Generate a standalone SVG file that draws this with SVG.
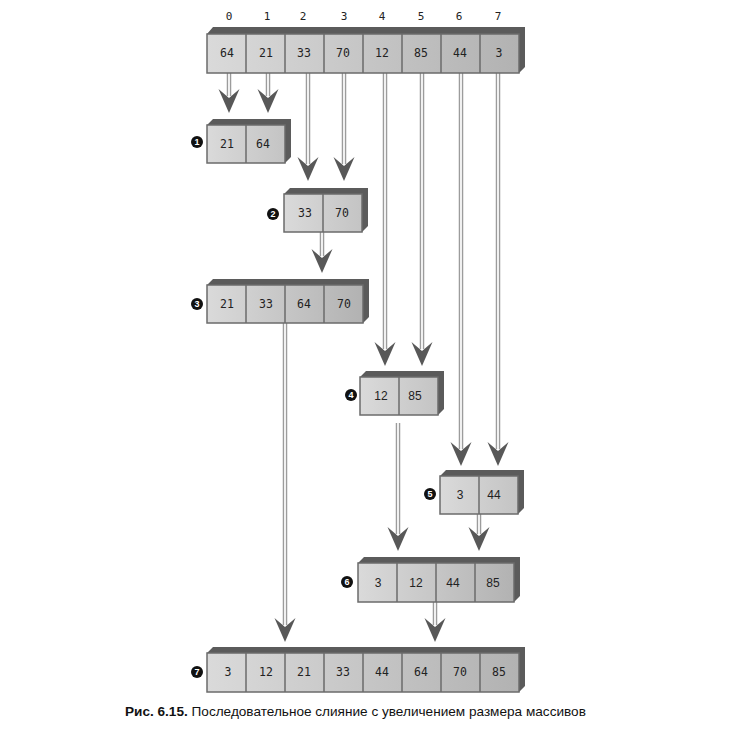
<svg xmlns="http://www.w3.org/2000/svg" width="738" height="731" viewBox="0 0 738 731">
<defs>
<linearGradient id="g" x1="0" y1="0" x2="1" y2="0">
<stop offset="0" stop-color="#dadada"/>
<stop offset="1" stop-color="#b2b2b2"/>
</linearGradient>
<linearGradient id="g2" x1="0" y1="0" x2="1" y2="0">
<stop offset="0" stop-color="#dadada"/>
<stop offset="1" stop-color="#c4c4c4"/>
</linearGradient>
<path id="ah" d="M-10.5,-24 L0,-15 L10.5,-24 L0,0 Z" fill="#585858"/>
</defs>
<style>
.side{fill:#5b5b5b}
.face{stroke:#6b6b6b;stroke-width:1.5}
.div{stroke:#6b6b6b;stroke-width:1.5}
.v{font-family:"DejaVu Sans Mono","Liberation Mono",monospace;font-size:11.5px;fill:#222;text-anchor:middle}
.vs{font-family:"Liberation Sans",Arial,sans-serif;font-size:12px;fill:#222;text-anchor:middle}
.idx{font-family:"DejaVu Sans Mono","Liberation Mono",monospace;font-size:11px;fill:#222;text-anchor:middle}
.so{stroke:#9c9c9c;stroke-width:4.5;fill:none}
.si{stroke:#fff;stroke-width:1.7;fill:none}
.nc{fill:#111}
.nt{font-family:"Liberation Sans",Arial,sans-serif;font-size:9px;font-weight:bold;fill:#fff;text-anchor:middle}
.cap{font-family:"Liberation Sans",Arial,sans-serif;font-size:13.6px;fill:#111}
</style>

<g id="indices">
<text class="idx" x="229" y="20">0</text>
<text class="idx" x="267" y="20">1</text>
<text class="idx" x="303" y="20">2</text>
<text class="idx" x="344" y="20">3</text>
<text class="idx" x="382" y="20">4</text>
<text class="idx" x="421" y="20">5</text>
<text class="idx" x="459" y="20">6</text>
<text class="idx" x="498" y="20">7</text>
</g>

<g id="connectors">
<g id="shafts">
<path class="so" d="M229,73V96 M268,73V96 M308,73V164 M344,73V164 M322,232V256 M385,73V349 M422,73V349 M461,73V449 M498,73V449 M285,323V625 M398,423V534 M479,514V534 M435,602V625"/>
<path class="si" d="M229,73V96 M268,73V96 M308,73V164 M344,73V164 M322,232V256 M385,73V349 M422,73V349 M461,73V449 M498,73V449 M285,323V625 M398,423V534 M479,514V534 M435,602V625"/>
</g>
<use href="#ah" x="229" y="113"/>
<use href="#ah" x="268" y="113"/>
<use href="#ah" x="308" y="181"/>
<use href="#ah" x="344" y="181"/>
<use href="#ah" x="322" y="273"/>
<use href="#ah" x="385" y="366"/>
<use href="#ah" x="422" y="366"/>
<use href="#ah" x="461" y="466"/>
<use href="#ah" x="498" y="466"/>
<use href="#ah" x="285" y="642"/>
<use href="#ah" x="398" y="551"/>
<use href="#ah" x="479" y="551"/>
<use href="#ah" x="435" y="642"/>
</g>

<g id="source">
<polygon class="side" points="207,34 213,27 525,27 525,67 519,73 519,34"/>
<rect class="face" x="207" y="34" width="312" height="39" fill="url(#g)"/>
<path class="div" d="M246,34V73 M285,34V73 M324,34V73 M363,34V73 M402,34V73 M441,34V73 M480,34V73"/>
<text class="v" x="227" y="57">64</text>
<text class="v" x="266" y="57">21</text>
<text class="v" x="304" y="57">33</text>
<text class="v" x="343" y="57">70</text>
<text class="v" x="382" y="57">12</text>
<text class="v" x="421" y="57">85</text>
<text class="v" x="460" y="57">44</text>
<text class="v" x="499" y="57">3</text>
</g>

<g id="node1">
<polygon class="side" points="207,125 213,119 291,119 291,157 285,163 285,125"/>
<rect class="face" x="207" y="125" width="78" height="38" fill="url(#g2)"/>
<path class="div" d="M246,125V163"/>
<text class="v" x="227" y="148">21</text>
<text class="v" x="263" y="148">64</text>
<circle class="nc" cx="197" cy="142" r="6"/><text class="nt" x="197" y="145.2">1</text>
</g>

<g id="node2">
<polygon class="side" points="284,194 290,188 368,188 368,226 362,232 362,194"/>
<rect class="face" x="284" y="194" width="78" height="38" fill="url(#g2)"/>
<path class="div" d="M323,194V232"/>
<text class="v" x="305" y="217">33</text>
<text class="v" x="342" y="217">70</text>
<circle class="nc" cx="273" cy="214" r="6"/><text class="nt" x="273" y="217.2">2</text>
</g>

<g id="node3">
<polygon class="side" points="207,285 213,279 369,279 369,317 363,323 363,285"/>
<rect class="face" x="207" y="285" width="156" height="38" fill="url(#g)"/>
<path class="div" d="M246,285V323 M285,285V323 M324,285V323"/>
<text class="v" x="227" y="308">21</text>
<text class="v" x="266" y="308">33</text>
<text class="v" x="304" y="308">64</text>
<text class="v" x="344" y="308">70</text>
<circle class="nc" cx="197" cy="304" r="6"/><text class="nt" x="197" y="307.2">3</text>
</g>

<g id="node4">
<polygon class="side" points="360,377 366,371 444,371 444,409 438,415 438,377"/>
<rect class="face" x="360" y="377" width="78" height="38" fill="url(#g2)"/>
<path class="div" d="M399,377V415"/>
<text class="vs" x="381" y="400">12</text>
<text class="vs" x="415" y="400">85</text>
<circle class="nc" cx="351" cy="395" r="6"/><text class="nt" x="351" y="398.2">4</text>
</g>

<g id="node5">
<polygon class="side" points="440,476 446,470 524,470 524,508 518,514 518,476"/>
<rect class="face" x="440" y="476" width="78" height="38" fill="url(#g2)"/>
<path class="div" d="M479,476V514"/>
<text class="vs" x="460" y="499">3</text>
<text class="vs" x="494" y="499">44</text>
<circle class="nc" cx="430" cy="494" r="6"/><text class="nt" x="430" y="497.2">5</text>
</g>

<g id="node6">
<polygon class="side" points="358,563 364,557 520,557 520,596 514,602 514,563"/>
<rect class="face" x="358" y="563" width="156" height="39" fill="url(#g)"/>
<path class="div" d="M397,563V602 M436,563V602 M475,563V602"/>
<text class="vs" x="378" y="587">3</text>
<text class="vs" x="416" y="587">12</text>
<text class="vs" x="453" y="587">44</text>
<text class="vs" x="493" y="587">85</text>
<circle class="nc" cx="347" cy="582" r="6"/><text class="nt" x="347" y="585.2">6</text>
</g>

<g id="node7">
<polygon class="side" points="207,653 213,647 525,647 525,686 519,692 519,653"/>
<rect class="face" x="207" y="653" width="312" height="39" fill="url(#g)"/>
<path class="div" d="M246,653V692 M285,653V692 M324,653V692 M363,653V692 M402,653V692 M441,653V692 M480,653V692"/>
<text class="v" x="228" y="676">3</text>
<text class="v" x="266" y="676">12</text>
<text class="v" x="304" y="676">21</text>
<text class="v" x="343" y="676">33</text>
<text class="v" x="382" y="676">44</text>
<text class="v" x="421" y="676">64</text>
<text class="v" x="460" y="676">70</text>
<text class="v" x="499" y="676">85</text>
<circle class="nc" cx="197" cy="672" r="6"/><text class="nt" x="197" y="675.2">7</text>
</g>

<text class="cap" x="125" y="716"><tspan font-weight="bold">Рис. 6.15.</tspan> Последовательное слияние с увеличением размера массивов</text>
</svg>
